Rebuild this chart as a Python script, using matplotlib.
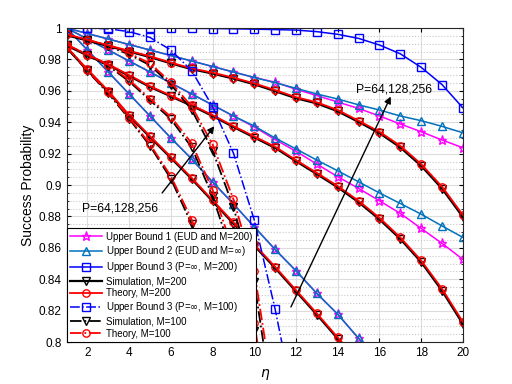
import numpy as np
import matplotlib
matplotlib.use("Agg")
import matplotlib.pyplot as plt

plt.rcParams['font.family'] = ['Liberation Sans', 'DejaVu Sans']
plt.rcParams['mathtext.fontset'] = 'dejavusans'

nan = np.nan
eta = np.arange(1, 21)

# upper bound 1 (EUD, M=200), P=256 / 128 / 64
ub1_p256 = [1.000, 0.9965, 0.993, 0.9895, 0.986, 0.9825, 0.979, 0.9755, 0.972, 0.9685,
            0.9655, 0.961, 0.957, 0.9529, 0.9488, 0.944, 0.9389, 0.934, 0.9287, 0.9238]
ub1_p128 = [1.000, 0.993, 0.986, 0.979, 0.972, 0.965, 0.958, 0.951, 0.944, 0.937,
            0.929, 0.9215, 0.9134, 0.9053, 0.8979, 0.890, 0.882, 0.8724, 0.8629, 0.8527]
ub1_p64 = [1.000, 0.986, 0.972, 0.958, 0.944, 0.930, 0.9166, 0.902, 0.888, 0.8734,
           0.859, 0.8454, 0.831, 0.8178, 0.8024, 0.788, nan, nan, nan, nan]

# upper bound 2 (EUD, M=inf)
ub2_p256 = [1.000, 0.9965, 0.993, 0.9895, 0.986, 0.9825, 0.979, 0.9755, 0.972, 0.9685,
            0.9652, 0.9616, 0.958, 0.9548, 0.9511, 0.9478, 0.944, 0.941, 0.9374, 0.9333]
ub2_p128 = [1.000, 0.993, 0.986, 0.979, 0.972, 0.965, 0.958, 0.951, 0.944, 0.9376,
            0.930, 0.923, 0.9159, 0.9091, 0.9021, 0.895, 0.8883, 0.8815, 0.874, 0.8667]
ub2_p64 = [1.000, 0.986, 0.972, 0.958, 0.944, 0.930, 0.9166, 0.902, 0.888, 0.8734,
           0.859, 0.8454, 0.831, 0.8178, 0.8024, 0.788, nan, nan, nan, nan]

# upper bound 3 (P=inf)
ub3_m200 = [1.000, 1.000, 1.000, 1.000, 0.9999, 0.9999, 0.9998, 0.9997, 0.9995, 0.9993,
            0.999, 0.9987, 0.9977, 0.996, 0.9934, 0.9892, 0.9836, 0.975, 0.964, 0.9492]
ub3_m100 = [1.000, 0.9999, 0.9995, 0.9977, 0.994, 0.986, 0.9728, 0.950, 0.9204, 0.8777,
            0.821, 0.755, nan, nan, nan, nan, nan, nan, nan, nan]

# simulation / theory, M=200
sim200_p256 = [0.9955, 0.992, 0.9885, 0.985, 0.9815, 0.9775, 0.9738, 0.971, 0.9678, 0.9642,
               0.9598, 0.9553, 0.952, 0.947, 0.9402, 0.9331, 0.924, 0.9123, 0.8978, 0.8797]
th200_p256 = [0.996, 0.9925, 0.989, 0.9855, 0.982, 0.978, 0.9743, 0.9716, 0.9684, 0.9648,
              0.9605, 0.956, 0.9527, 0.9478, 0.941, 0.934, 0.925, 0.9134, 0.899, 0.881]
sim200_p128 = [0.989, 0.9825, 0.9765, 0.9695, 0.9625, 0.9565, 0.9505, 0.944, 0.937, 0.9303,
               0.9237, 0.9152, 0.907, 0.8986, 0.8891, 0.8782, 0.8657, 0.851, 0.8328, 0.8116]
th200_p128 = [0.9895, 0.983, 0.977, 0.970, 0.963, 0.957, 0.951, 0.9446, 0.9376, 0.931,
              0.9244, 0.9159, 0.9078, 0.8994, 0.890, 0.8792, 0.8667, 0.852, 0.834, 0.8129]
sim200_p64 = [0.9875, 0.9731, 0.9594, 0.944, 0.9305, 0.9173, 0.9039, 0.8897, 0.8755, 0.8614,
              0.8472, 0.8323, 0.8175, 0.8022, 0.787, nan, nan, nan, nan, nan]
th200_p64 = [0.988, 0.9737, 0.960, 0.9446, 0.9312, 0.918, 0.9046, 0.8904, 0.8763, 0.8622,
             0.848, 0.8331, 0.8183, 0.803, 0.788, nan, nan, nan, nan, nan]

# simulation / theory, M=100
sim100_p256 = [0.9955, 0.9922, 0.9884, 0.9832, 0.9763, 0.964, 0.948, 0.922, 0.886, 0.838,
               0.75, nan, nan, nan, nan, nan, nan, nan, nan, nan]
th100_p256 = [0.996, 0.9925, 0.989, 0.984, 0.9775, 0.9655, 0.950, 0.926, 0.891, 0.845,
              0.76, nan, nan, nan, nan, nan, nan, nan, nan, nan]
sim100_p128 = [0.989, 0.9826, 0.976, 0.966, 0.954, 0.942, 0.924, 0.893, 0.853, 0.807,
               0.72, nan, nan, nan, nan, nan, nan, nan, nan, nan]
th100_p128 = [0.9895, 0.983, 0.9765, 0.967, 0.955, 0.9435, 0.9266, 0.897, 0.858, 0.812,
              0.73, nan, nan, nan, nan, nan, nan, nan, nan, nan]
sim100_p64 = [0.9876, 0.9726, 0.9584, 0.9422, 0.925, 0.904, 0.875, 0.839, 0.796, 0.74,
              nan, nan, nan, nan, nan, nan, nan, nan, nan, nan]
th100_p64 = [0.988, 0.973, 0.959, 0.943, 0.926, 0.9057, 0.878, 0.843, 0.801, 0.75,
             nan, nan, nan, nan, nan, nan, nan, nan, nan, nan]

labels = ["Upper Bound 1 (EUD and M=200)",
          "Upper Bound 2 (EUD and M=$\\infty$)",
          "Upper Bound 3 (P=$\\infty$, M=200)",
          "Simulation, M=200",
          "Theory, M=200",
          "Upper Bound 3 (P=$\\infty$, M=100)",
          "Simulation, M=100",
          "Theory, M=100"]

MAG = (1, 0, 1)
UB2C = (0, 0.447, 0.741)
BLUE = (0, 0, 1)
ms = 5.3

styles = [
    dict(color=MAG, ls='-', marker='*', mfc='none', lw=1.1, ms=6.5),
    dict(color=UB2C, ls='-', marker='^', mfc='none', lw=1.1, ms=ms),
    dict(color=BLUE, ls='-', marker='s', mfc='none', lw=1.1, ms=ms),
    dict(color='k', ls='-', marker='v', mfc='none', lw=1.6, ms=ms),
    dict(color='r', ls='-', marker='o', mfc='none', lw=1.3, ms=ms),
    dict(color=BLUE, ls='-.', marker='s', mfc='none', lw=1.1, ms=ms),
    dict(color='k', ls='-.', marker='v', mfc='none', lw=1.3, ms=ms),
    dict(color='r', ls='-.', marker='o', mfc='none', lw=1.3, ms=ms),
]

groups = [
    [ub1_p256, ub1_p128, ub1_p64],
    [ub2_p256, ub2_p128, ub2_p64],
    [ub3_m200],
    [sim200_p256, sim200_p128, sim200_p64],
    [th200_p256, th200_p128, th200_p64],
    [ub3_m100],
    [sim100_p256, sim100_p128, sim100_p64],
    [th100_p256, th100_p128, th100_p64],
]

fig = plt.figure(figsize=(5.12, 3.84), dpi=100)
ax = fig.add_axes([0.13, 0.109, 0.774, 0.818])

handles = []
for st, grp, lab in zip(styles, groups, labels):
    for k, ys in enumerate(grp):
        ln, = ax.plot(eta, ys, mew=1.0, **st)
        if k == 0:
            handles.append(ln)

ax.set_xlim(1, 20)
ax.set_ylim(0.8, 1.0)
ax.set_xticks(np.arange(2, 21, 2))
yt = np.arange(0.8, 1.0001, 0.02)
ax.set_yticks(yt)
ax.set_yticklabels(["%g" % round(v, 2) for v in yt])
ax.set_yticks(np.arange(0.8, 1.0001, 0.005), minor=True)
ax.grid(True, which='major', color='#dcdcdc', lw=0.8)
ax.grid(True, which='minor', axis='y', color='#c8c8c8', ls=':', lw=0.8)
ax.set_axisbelow(True)
ax.tick_params(direction='in', top=True, right=True, labelsize=8.5, length=3)
ax.tick_params(which='minor', direction='in', right=True, left=True, length=1.5)
for sp in ax.spines.values():
    sp.set_color('#262626')
    sp.set_linewidth(0.8)

ax.set_xlabel("$\\eta$", fontsize=10, labelpad=6)
ax.set_ylabel("Success Probability", fontsize=10, labelpad=3)

ax.annotate("", xy=(16.6, 0.958), xytext=(11.7, 0.8208),
            arrowprops=dict(arrowstyle='-|>', color='k', lw=1.0, mutation_scale=10))
ax.text(14.9, 0.9611, "P=64,128,256", fontsize=8.7, ha='left', va='center')
ax.annotate("", xy=(8.17, 0.9389), xytext=(5.5, 0.8936),
            arrowprops=dict(arrowstyle='-|>', color='k', lw=1.0, mutation_scale=10))
ax.text(1.73, 0.8853, "P=64,128,256", fontsize=8.7, ha='left', va='center')

leg = ax.legend(handles, labels, loc='lower left', fontsize=7.0, borderaxespad=0.0,
                handlelength=3.3, labelspacing=0.22, handletextpad=0.4,
                borderpad=0.35, fancybox=False, framealpha=1.0, edgecolor='k')
leg.get_frame().set_linewidth(0.8)

fig.savefig("out.png", dpi=100)
